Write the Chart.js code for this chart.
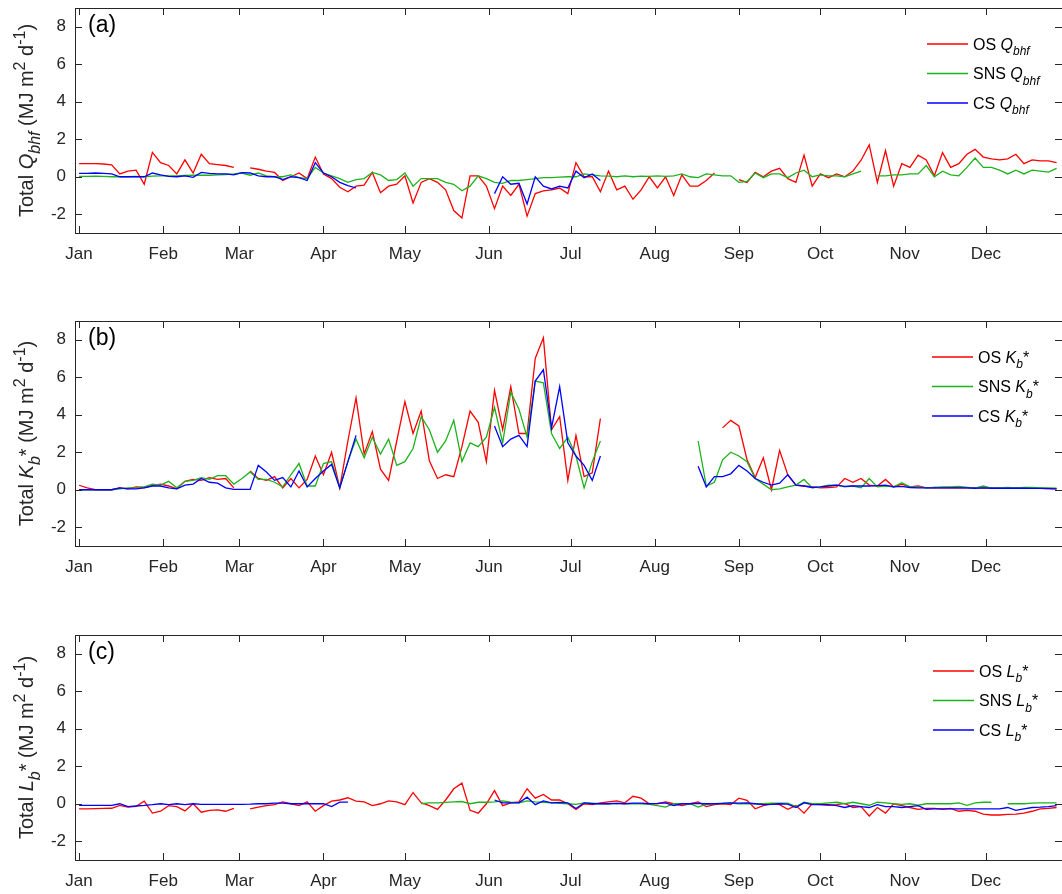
<!DOCTYPE html>
<html>
<head>
<meta charset="utf-8">
<script src="https://cdn.jsdelivr.net/npm/chart.js@4.4.1/dist/chart.umd.min.js"></script>
<style>
  html, body { margin: 0; padding: 0; background: #fff; }
  #wrap { position: relative; width: 1062px; height: 894px; overflow: hidden; }
  canvas { position: absolute; left: 0; }
</style>
</head>
<body>
<div id="wrap">
  <canvas id="panelA" width="1062" height="340" style="top:-12px"></canvas>
  <canvas id="panelB" width="1062" height="340" style="top:301px"></canvas>
  <canvas id="panelC" width="1062" height="340" style="top:615px"></canvas>
</div>
<script>
// ── Data (day of year, sampled every 3 days; null = no data) ──
const _ = null;
const days = [
  0,3,6,9,12,15,18,21,24,27, 30,33,36,39,42,45,48,51,54,57, 60,63,66,69,72,75,78,81,84,87, 90,93,96,99,102,105,108,111,114,117, 120,
  123,126,129,132,135,138,141,144,147,150, 153,156,159,162,165,168,171,174,177,180, 183,186,189,192,195,198,201,204,207,210, 213,216,219,222,225,228,231,234,237,240,
  243,246,249,252,255,258,261,264,267,270, 273,276,279,282,285,288,291,294,297,300, 303,306,309,312,315,318,321,324,327,330, 333,336,339,342,345,348,351,354,357,360
];
const monthStarts = [0, 31, 59, 90, 120, 151, 181, 212, 243, 273, 304, 334];
const monthNames  = ['Jan','Feb','Mar','Apr','May','Jun','Jul','Aug','Sep','Oct','Nov','Dec'];
const yTicks = [-2, 0, 2, 4, 6, 8];

// (a) Q_bhf
const osQ = [
  0.7,0.7,0.7,0.68,0.64,0.15,0.3,0.35,-0.4,1.3, 0.75,0.6,0.15,0.9,0.2,1.2,0.7,0.65,0.6,0.5, _,0.47,0.4,0.3,0.23,-0.2,0.0,0.2,-0.1,1.05, 0.15,-0.1,-0.56,-0.8,-0.5,-0.45,0.23,-0.85,-0.5,-0.4, 0.05,
  -1.4,-0.3,-0.1,-0.3,-0.7,-1.8,-2.2,0.05,0.05,-0.5, -1.7,-0.5,-1.0,-0.4,-2.1,-0.9,-0.75,-0.7,-0.6,-0.9, 0.75,0.0,0.0,-0.8,0.3,-0.7,-0.5,-1.2,-0.7,0.0, -0.6,0.0,-1.0,0.1,-0.5,-0.5,-0.2,0.2,_,_,
  -0.15,-0.3,0.23,0.0,0.3,0.45,-0.1,-0.3,1.15,-0.5, 0.15,-0.05,0.15,0.0,0.3,0.88,1.7,-0.3,1.4,-0.5, 0.7,0.5,1.15,0.9,0.05,1.29,0.5,0.7,1.2,1.46, 1.05,0.95,0.9,0.95,1.2,0.7,0.9,0.85,0.85,0.75
];
const snsQ = [
  0.02,0.02,0.03,0.02,0.0,0.0,0.0,0.02,0.0,0.03, 0.05,0.05,0.05,0.07,0.08,0.08,0.08,0.1,0.12,0.15, 0.2,0.08,0.2,0.05,0.0,0.0,0.1,-0.05,-0.1,0.5, 0.2,0.05,-0.1,-0.3,-0.15,-0.1,0.23,0.1,-0.2,-0.15, 0.2,
  -0.5,-0.1,-0.1,-0.1,-0.3,-0.4,-0.75,-0.5,0.05,-0.1, -0.3,-0.35,-0.2,-0.2,-0.15,-0.1,-0.05,-0.05,-0.02,0.0, 0.0,0.15,0.1,0.05,0.03,0.0,0.05,0.0,0.03,0.02, 0.05,0.02,0.05,0.15,0.0,-0.05,0.15,0.1,0.05,0.05,
  -0.3,-0.25,0.2,-0.05,0.15,0.15,-0.05,0.2,0.35,0.0, 0.1,0.05,0.05,0.0,0.15,0.3,_,0.05,0.05,0.1, 0.1,0.15,0.15,0.6,0.0,0.3,0.1,0.05,0.5,1.0, 0.5,0.5,0.35,0.15,0.35,0.15,0.35,0.3,0.25,0.45
];
const csQ = [
  0.18,0.18,0.2,0.18,0.15,0.0,0.0,0.0,0.0,0.2, 0.1,0.02,0.0,0.05,-0.03,0.23,0.18,0.15,0.15,0.1, 0.22,0.2,0.05,0.0,0.0,-0.15,0.0,-0.05,-0.2,0.75, 0.2,0.0,-0.3,-0.47,-0.6,_,_,_,_,_, _,
  _,_,_,_,_,_,_,_,_,_, -0.9,0.0,-0.4,-0.35,-1.45,0.0,-0.5,-0.65,-0.5,-0.6, 0.3,-0.05,0.15,-0.2,_,_,_,_,_,_, _,_,_,_,_,_,_,_,_,_,
  _,_,_,_,_,_,_,_,_,_, _,_,_,_,_,_,_,_,_,_, _,_,_,_,_,_,_,_,_,_, _,_,_,_,_,_,_,_,_,_
];

// (b) K_b*
const osK = [
  0.24,0.1,0.0,0.0,0.0,0.1,0.05,0.15,0.12,0.22, 0.3,0.2,0.05,0.45,0.55,0.5,0.65,0.55,0.6,0.1, _,1.0,0.6,0.5,0.7,0.1,0.6,0.1,0.55,1.8, 0.8,2.0,0.1,2.6,4.9,1.9,3.1,1.1,0.5,2.6, 4.7,
  3.0,4.2,1.55,0.6,0.8,0.7,2.3,4.2,3.6,1.5, 5.3,3.2,5.5,3.0,3.0,7.0,8.1,3.2,3.9,0.5, 2.9,0.7,0.9,3.8,_,_,_,_,_,_, _,_,_,_,_,_,_,_,3.3,3.7,
  3.4,1.6,0.65,1.7,0.0,2.1,0.8,0.25,0.2,0.15, 0.1,0.12,0.15,0.6,0.4,0.6,0.25,0.2,0.55,0.15, 0.3,0.15,0.2,0.1,0.12,0.1,0.12,0.1,0.12,0.1, 0.1,0.1,0.08,0.08,0.08,0.08,0.07,0.07,0.06,0.05
];
const snsK = [
  0.0,0.0,0.0,0.0,0.0,0.05,0.1,0.1,0.15,0.3, 0.25,0.45,0.1,0.45,0.5,0.65,0.55,0.75,0.75,0.3, 0.6,0.95,0.55,0.55,0.4,0.15,0.8,1.4,0.2,0.2, 1.4,1.5,0.1,1.5,2.7,1.7,2.8,1.9,2.7,1.3, 1.5,
  2.2,3.9,3.2,2.0,2.6,3.7,1.5,2.5,2.3,2.8, 4.4,2.5,5.2,4.3,2.8,5.8,5.7,3.0,2.2,2.8, 1.8,0.1,1.5,2.6,_,_,_,_,_,_, _,_,_,_,_,2.6,0.2,0.4,1.6,2.0,
  1.8,1.5,0.6,0.3,0.0,0.05,0.15,0.25,0.55,0.1, 0.15,0.25,0.25,0.15,0.2,0.1,0.6,0.15,0.2,0.15, 0.38,0.15,0.15,0.1,0.12,0.15,0.15,0.18,0.12,0.08, 0.2,0.08,0.1,0.12,0.1,0.12,0.12,0.1,0.1,0.08
];
const csK = [
  0.0,0.0,0.0,0.0,0.0,0.1,0.05,0.05,0.1,0.2, 0.2,0.1,0.05,0.25,0.3,0.6,0.4,0.35,0.1,0.02, 0.02,0.02,1.3,0.95,0.5,0.65,0.15,1.0,0.15,0.6, 1.0,1.35,0.1,1.5,2.9,_,_,_,_,_, _,
  _,_,_,_,_,_,_,_,_,_, 3.4,2.3,2.7,2.9,2.3,5.8,6.4,3.3,5.5,2.5, 1.8,1.3,0.5,1.8,_,_,_,_,_,_, _,_,_,_,_,1.25,0.15,0.7,0.7,0.85,
  1.3,1.0,0.6,0.4,0.25,0.35,0.8,0.25,0.2,0.12, 0.15,0.2,0.25,0.18,0.2,0.2,0.2,0.22,0.25,0.15, 0.18,0.12,0.1,0.1,0.1,0.1,0.1,0.1,0.1,0.08, 0.1,0.08,0.08,0.08,0.08,0.08,0.07,0.07,0.06,0.05
];

// (c) L_b*
const osL = [
  -0.27,-0.27,-0.26,-0.25,-0.24,-0.09,-0.18,-0.14,0.14,-0.5, -0.4,-0.1,-0.15,-0.38,0.0,-0.45,-0.35,-0.33,-0.4,-0.25, _,-0.27,-0.18,-0.1,-0.05,0.1,0.0,-0.1,0.1,-0.4, -0.1,0.14,0.2,0.32,0.14,0.1,-0.1,0.0,0.15,0.1, -0.05,
  0.6,0.05,-0.1,-0.3,0.2,0.8,1.1,-0.35,-0.5,0.0, 0.7,-0.1,0.05,0.1,0.8,0.3,0.5,0.2,0.2,0.0, -0.3,0.0,-0.05,0.05,0.1,0.15,0.05,0.4,0.3,0.0, 0.0,0.1,0.0,-0.1,0.0,0.1,-0.15,-0.05,0.0,-0.05,
  0.3,0.18,-0.27,-0.1,0.0,-0.05,-0.3,-0.1,-0.5,0.0, -0.05,-0.08,-0.05,0.02,-0.2,-0.15,-0.65,-0.2,-0.5,0.0, -0.1,-0.2,-0.3,-0.25,-0.25,-0.3,-0.25,-0.4,-0.35,-0.4, -0.55,-0.6,-0.6,-0.57,-0.55,-0.5,-0.4,-0.27,-0.25,-0.2
];
const snsL = [
  _,_,_,_,_,_,_,_,_,_, _,_,_,_,_,_,_,_,_,_, _,_,_,_,_,_,_,_,_,_, _,_,_,_,_,_,_,_,_,_, _,
  _,0.0,0.05,0.05,0.07,0.1,0.12,0.0,0.08,0.08, 0.1,0.15,0.08,0.05,0.15,0.1,0.08,0.05,0.02,0.0, -0.03,0.05,0.03,0.0,0.0,0.02,0.0,0.0,0.0,-0.03, -0.1,-0.18,0.0,0.0,0.0,-0.18,-0.03,0.0,0.03,0.03,
  0.0,0.0,0.0,0.0,0.03,0.03,0.03,-0.15,0.08,0.0, 0.0,0.05,0.08,0.0,0.08,0.0,-0.08,0.08,0.05,0.0, -0.03,0.0,-0.08,0.0,0.0,0.0,0.0,0.05,-0.08,0.05, 0.08,0.08,_,0.0,0.0,0.0,0.03,0.05,0.05,0.05
];
const csL = [
  -0.09,-0.09,-0.09,-0.09,-0.09,0.0,-0.15,-0.12,-0.09,-0.05, 0.0,-0.05,0.0,-0.05,0.0,-0.03,-0.03,-0.03,-0.03,-0.03, -0.03,-0.02,0.0,0.0,0.03,0.03,0.0,0.0,0.0,0.0, 0.0,-0.15,0.09,0.09,_,_,_,_,_,_, _,
  _,_,_,_,_,_,_,_,_,_, 0.2,0.05,0.05,0.05,0.35,-0.05,0.15,0.05,0.07,0.05, -0.25,0.05,0.0,0.0,0.0,0.02,0.0,0.03,0.03,0.0, 0.02,0.05,-0.1,0.0,0.0,0.02,0.0,0.0,0.02,0.05,
  0.03,0.05,0.0,-0.05,-0.03,0.0,-0.02,-0.2,0.05,-0.05, -0.05,-0.05,-0.1,-0.2,-0.1,-0.15,-0.2,-0.05,-0.15,-0.15, -0.2,-0.15,-0.1,-0.3,-0.27,-0.27,-0.27,-0.27,-0.27,-0.27, -0.27,-0.27,-0.27,-0.2,-0.35,-0.27,-0.2,-0.18,-0.15,-0.1
];

// ── Style ──
const RED = '#ff0000', GREEN = '#1db31d', BLUE = '#0000ff';
const AX = '#262626';
const FONT = '"Liberation Sans", Arial, Helvetica, sans-serif';

const toXY = vals => days.map((d, i) => ({ x: d, y: vals[i] }));

// rich text: parts = [text, style]  style: '' normal, 'i' italic, 'is' italic subscript, 'p' superscript
function richDraw(ctx, parts, x, y, size, doDraw) {
  let cx = x;
  parts.forEach(([t, st]) => {
    const small = st.includes('s') || st.includes('p');
    const fs = small ? Math.round(size * 0.78) : size;
    ctx.font = (st.includes('i') ? 'italic ' : '') + fs + 'px ' + FONT;
    const dy = st.includes('s') ? size * 0.36 : (st.includes('p') ? -size * 0.42 : 0);
    if (doDraw) ctx.fillText(t, cx, y + dy);
    cx += ctx.measureText(t).width;
  });
  return cx - x;
}

function makePanel(id, tag, sym, os, sns, cs, legX) {
  const unit = [[' (MJ m', ''], ['2', 'p'], [' d', ''], ['-1', 'p'], [')', '']];
  const titleParts = [['Total ', '']].concat(sym, unit);
  const legNames = ['OS ', 'SNS ', 'CS '];
  const legCols  = [RED, GREEN, BLUE];

  const deco = {
    id: 'deco',
    afterDraw(chart) {
      const { ctx, chartArea: a, scales: { x, y } } = chart;
      ctx.save();
      ctx.strokeStyle = AX;
      ctx.lineWidth = 1;
      ctx.strokeRect(Math.round(a.left) + 0.5, Math.round(a.top) + 0.5,
                     Math.round(a.right - a.left), Math.round(a.bottom - a.top));
      ctx.beginPath();
      x.ticks.forEach(t => {
        const px = Math.round(x.getPixelForValue(t.value)) + 0.5;
        ctx.moveTo(px, a.bottom); ctx.lineTo(px, a.bottom - 7);
        ctx.moveTo(px, a.top);    ctx.lineTo(px, a.top + 7);
      });
      y.ticks.forEach(t => {
        const py = Math.round(y.getPixelForValue(t.value)) + 0.5;
        ctx.moveTo(a.left, py);  ctx.lineTo(a.left + 7, py);
        ctx.moveTo(a.right, py); ctx.lineTo(a.right - 7, py);
      });
      ctx.stroke();

      // panel tag
      ctx.fillStyle = '#000';
      ctx.textBaseline = 'alphabetic';
      ctx.textAlign = 'left';
      ctx.font = '23px ' + FONT;
      ctx.fillText(tag, 88, a.top + 24);

      // legend
      ctx.lineWidth = 1.3;
      [36, 65.5, 95].forEach((dy, i) => {
        const ly = a.top + dy;
        ctx.beginPath();
        ctx.strokeStyle = legCols[i];
        ctx.moveTo(legX, ly);
        ctx.lineTo(legX + 41, ly);
        ctx.stroke();
        ctx.fillStyle = '#000';
        richDraw(ctx, [[legNames[i], '']].concat(sym), legX + 46, ly + 5.5, 16, true);
      });

      // y title
      ctx.fillStyle = AX;
      const w = richDraw(ctx, titleParts, 0, 0, 20, false);
      ctx.translate(33, (a.top + a.bottom) / 2);
      ctx.rotate(-Math.PI / 2);
      richDraw(ctx, titleParts, -w / 2, 0, 20, true);
      ctx.restore();
    }
  };

  const tickFont = { size: 17, family: FONT };

  return new Chart(document.getElementById(id), {
    type: 'line',
    data: {
      datasets: [
        { label: 'OS',  data: toXY(os),  borderColor: RED,   order: 3 },
        { label: 'SNS', data: toXY(sns), borderColor: GREEN, order: 2 },
        { label: 'CS',  data: toXY(cs),  borderColor: BLUE,  order: 1 },
      ]
    },
    options: {
      responsive: false,
      animation: false,
      spanGaps: false,
      layout: { padding: { top: 20, right: 0, bottom: 0, left: 0 } },
      elements: {
        point: { radius: 0 },
        line:  { borderWidth: 1.3, tension: 0, fill: false }
      },
      plugins: { legend: { display: false }, tooltip: { enabled: false } },
      scales: {
        x: {
          type: 'linear',
          min: -1.5, max: 362,
          afterBuildTicks: s => { s.ticks = monthStarts.map(v => ({ value: v })); },
          afterFit: s => { s.height = 95; },
          grid:   { display: false, drawTicks: false },
          border: { display: false },
          ticks:  {
            font: tickFont, color: AX, padding: 11,
            autoSkip: false, maxRotation: 0,
            callback: v => monthNames[monthStarts.indexOf(v)]
          }
        },
        y: {
          min: -3, max: 9,
          afterBuildTicks: s => { s.ticks = yTicks.map(v => ({ value: v })); },
          afterFit: s => { s.width = 75; },
          grid:   { display: false, drawTicks: false },
          border: { display: false },
          ticks:  { font: tickFont, color: AX, padding: 9 }
        }
      }
    },
    plugins: [deco]
  });
}

makePanel('panelA', '(a)', [['Q', 'i'], ['bhf', 'is']], osQ, snsQ, csQ, 927);
makePanel('panelB', '(b)', [['K', 'i'], ['b', 'is'], ['*', '']], osK, snsK, csK, 932);
makePanel('panelC', '(c)', [['L', 'i'], ['b', 'is'], ['*', '']], osL, snsL, csL, 933);
</script>
</body>
</html>
